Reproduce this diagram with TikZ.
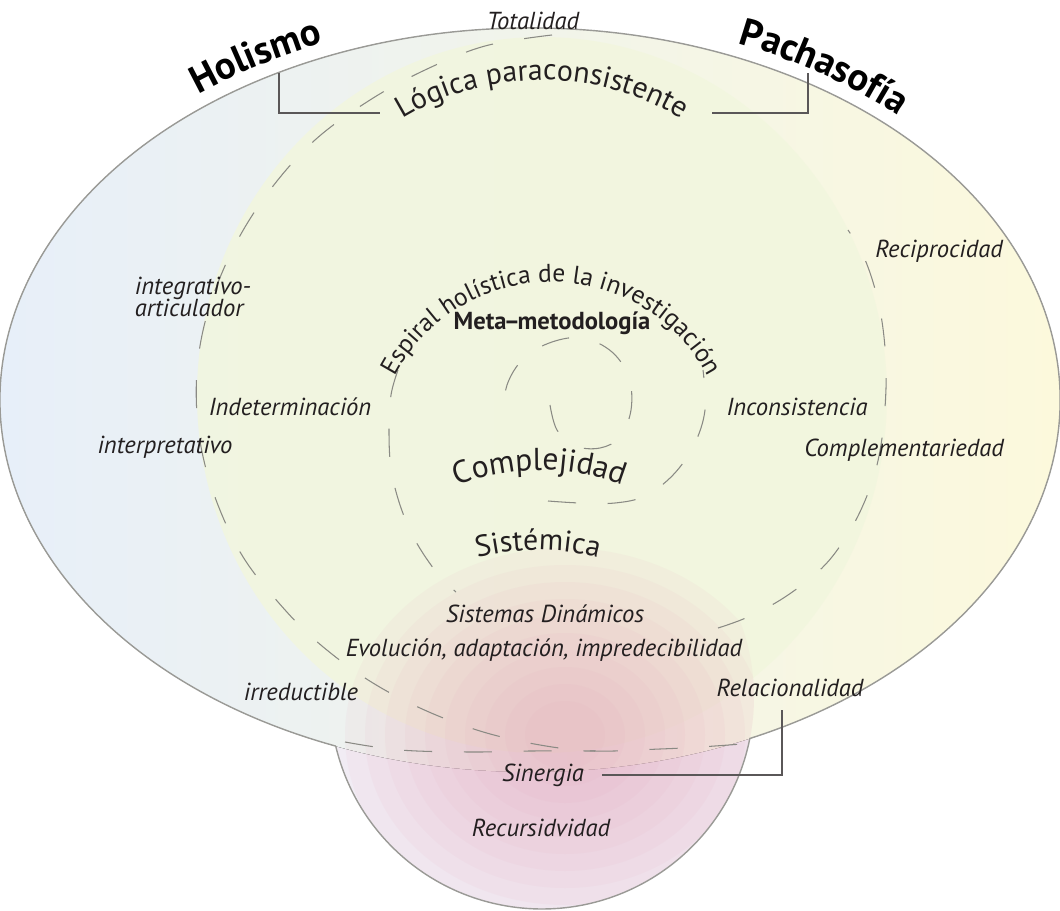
\documentclass[tikz,border=0pt]{standalone}
\usepackage{fontspec}
\setmainfont{PT Sans}
\usetikzlibrary{decorations.text}
\definecolor{holblue}{HTML}{E7EFF9}
\definecolor{pachacream}{HTML}{FCF9DC}
\definecolor{spiralgreen}{HTML}{F2F6DE}
\definecolor{sinpink}{HTML}{E7A3BA}
\definecolor{sinrim}{HTML}{F1ECF4}
\definecolor{rimgray}{HTML}{9A9A96}
\definecolor{dashgray}{HTML}{8A8A84}
\definecolor{inkc}{HTML}{231F20}
\tikzset{
  lbl/.style={font=\fontsize{14}{16}\selectfont\itshape, text=inkc, inner sep=2pt},
  spiraldash/.style={draw=dashgray, line width=0.6pt, dash pattern=on 16pt off 18pt},
  bracket/.style={draw=inkc!75, line width=1.1pt},
  arctext/.style={decorate, decoration={text along path, text align=center, text={#1}}},
}
\begin{document}
\begin{tikzpicture}[x=0.02cm, y=-0.02cm]
\useasboundingbox (0,0) rectangle (1060,911);
% Holismo / Pachasofia ellipse and the lower circle
\fill[sinrim] (542,697) circle[radius=212];
\fill[left color=holblue, right color=pachacream] (530,400) ellipse[x radius=530, y radius=372];
\fill[spiralgreen, opacity=0.85] (542,395) ellipse[x radius=345, y radius=358];
\begin{scope}
  \clip (542,697) circle[radius=212];
  \foreach \r in {220,200,...,40}
    \fill[sinpink, opacity=0.08] (565,735) ellipse[x radius=\r, y radius=0.85*\r];
\end{scope}
\draw[rimgray, line width=0.8pt] (335.8,746.1)
  arc[start angle=111.5, end angle=425.5, x radius=530, y radius=372]
  arc[start angle=11.3, end angle=166.6, radius=212] -- cycle;
% spiral
\draw[spiraldash] plot[smooth, tension=0.6] coordinates {(550,405) (557,430) (575,446) (600,448) (620,437) (631,410) (629,378) (612,352) (583,338) (552,342) (524,358) (507,385) (503,418)};
\draw[spiraldash] plot[smooth, tension=0.6] coordinates {(548,501) (580,503) (615,503) (645,496) (673,475) (694,445) (705,410) (703,370)};
\draw[spiraldash] plot[smooth, tension=0.6] coordinates {(398,370) (391,395) (389,430) (391,468) (400,505) (415,540) (437,573) (456,592)};
\draw[spiraldash] plot[smooth, tension=0.6] coordinates {(718,628) (748,617) (785,597) (822,568) (846,537) (864,503) (877,465) (884,420) (886,365) (880,310) (866,262) (848,230)};
\draw[spiraldash] plot[smooth, tension=0.6] coordinates {(552,35) (485,46) (425,70) (370,100) (315,140) (270,190) (235,245) (210,305) (198,360) (197,415) (205,465) (222,515) (245,560) (278,602) (315,640) (365,678) (420,708) (480,731) (540,745) (595,751) (660,749) (700,747) (742,744)};
\draw[spiraldash] plot[smooth, tension=0.6] coordinates {(345,742) (400,750) (470,752) (530,751) (595,751)};
% curved titles
\path (530,400) ++(224.7:544 and 386) coordinate (holA);
\path (530,400) ++(286:544 and 386) coordinate (pachaA);
\path (551,459) ++(-160:177) coordinate (espA);
\path (542,350) ++(-130:270) coordinate (logA);
\path (540,700) ++(-120:230) coordinate (compA);
\path (538,800) ++(-110:250) coordinate (sisA);
\path[arctext={|\fontsize{22}{22}\selectfont\bfseries\color{black}|Holismo}] (holA)
  arc[start angle=224.7, end angle=254.7, x radius=544, y radius=386];
\path[arctext={|\fontsize{22}{22}\selectfont\bfseries\color{black}|Pachasofía}] (pachaA)
  arc[start angle=286, end angle=320, x radius=544, y radius=386];
\path[arctext={|\fontsize{14.5}{14.5}\selectfont\color{inkc}|Espiral holística de la investigación}] (espA)
  arc[start angle=-160, end angle=-20, radius=177];
\path[arctext={|\fontsize{17}{17}\selectfont\color{inkc}|Lógica paraconsistente}] (logA)
  arc[start angle=-130, end angle=-50, radius=270];
\path[arctext={|\fontsize{18}{18}\selectfont\color{inkc}|Complejidad}] (compA)
  arc[start angle=-120, end angle=-60, radius=230];
\path[arctext={|\fontsize{17}{17}\selectfont\color{inkc}|Sistémica}] (sisA)
  arc[start angle=-110, end angle=-70, radius=250];
% labels
\node[lbl] (totalidad) at (533,21) {Totalidad};
\node[lbl, align=left, font=\fontsize{14}{13}\selectfont\itshape] (integrativo) at (193,297) {integrativo-\\articulador};
\node[lbl] (interpretativo) at (165,447) {interpretativo};
\node[lbl] (indeterminacion) at (290,407) {Indeterminación};
\node[lbl] (inconsistencia) at (797,407) {Inconsistencia};
\node[lbl] (complementariedad) at (904,450) {Complementariedad};
\node[lbl] (reciprocidad) at (939,251) {Reciprocidad};
\node[font=\fontsize{14}{16}\selectfont\bfseries, text=inkc] (meta) at (552,323) {Meta\kern-1.5pt--\kern-1.5pt metodología};
\node[lbl] (sisdin) at (545,614) {Sistemas Dinámicos};
\node[lbl] (evolucion) at (544,650) {Evolución, adaptación, impredecibilidad};
\node[lbl] (irreductible) at (301,692) {irreductible};
\node[lbl] (relacional) at (790,688) {Relacionalidad};
\node[lbl] (sinergia) at (543,775) {Sinergia};
\node[lbl] (recursividad) at (541,828) {Recursidvidad};
% brackets
\coordinate (holfoot) at (279,73);
\coordinate (logl) at (380,113);
\coordinate (logr) at (712,113);
\coordinate (pachafoot) at (808,73);
\draw[bracket] (holfoot) |- (logl);
\draw[bracket] (logr) -| (pachafoot);
\draw[bracket, shorten <=8pt, shorten >=5pt] (sinergia.east) -| ([xshift=-4.5pt]relacional.south);
\end{tikzpicture}
\end{document}
